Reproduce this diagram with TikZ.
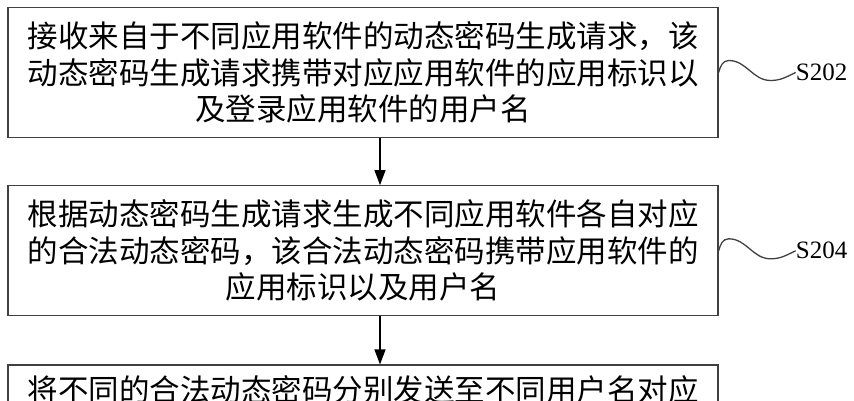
\documentclass[tikz,border=0pt]{standalone}
\usepackage{fontspec}
\setmainfont{Liberation Serif}
\newfontfamily\cjk{Noto Sans CJK SC}
\usetikzlibrary{arrows.meta, positioning}
\tikzset{
	stepbox/.style={
		rectangle, 
		minimum width=710pt, 
		minimum height=130pt, 
		text centered, 
		align=center,
		draw=black!75, 
		line width=1.3pt,
		font=\cjk\fontsize{30.5}{36.5}\selectfont
	},
	tag/.style={
		inner sep=0pt, 
		font=\fontsize{25}{25}\selectfont
	},
	wave/.style={line width=1.3pt, draw=black!75},
	arrow/.style={line width=1.2pt,->,>={Triangle[length=15pt,width=11pt]}}
}

\begin{document}
\begin{tikzpicture}[x=1pt, y=1pt]
	\useasboundingbox (0,0) rectangle (854,400);
	\clip (0,0) rectangle (854,400);
	\node (recv) [stepbox] at (363,327.5) {接收来自于不同应用软件的动态密码生成请求，该\\动态密码生成请求携带对应应用软件的应用标识以\\及登录应用软件的用户名};
	\node (gen) [stepbox, below=47pt of recv] {根据动态密码生成请求生成不同应用软件各自对应\\的合法动态密码，该合法动态密码携带应用软件的\\应用标识以及用户名};
	\node (send) [stepbox, below=48pt of gen] {将不同的合法动态密码分别发送至不同用户名对应\\ \strut\\ \strut};
	\node (s202) [tag, right=77pt of recv] {S202};
	\node (s204) [tag, right=77pt of gen] {S204};
	
	\draw [arrow] ([xshift=17pt]recv.south) -- ([xshift=17pt]gen.north);
	\draw [arrow] ([xshift=17pt]gen.south) -- ([xshift=17pt]send.north);
	\draw [wave] (recv.east) to[out=75,in=180] ++(10,12) to[out=0,in=180] ++(42,-20) to[out=0,in=205] (s202.west);
	\draw [wave] (gen.east) to[out=75,in=180] ++(10,12) to[out=0,in=180] ++(42,-20) to[out=0,in=205] (s204.west);
\end{tikzpicture}
\end{document}
